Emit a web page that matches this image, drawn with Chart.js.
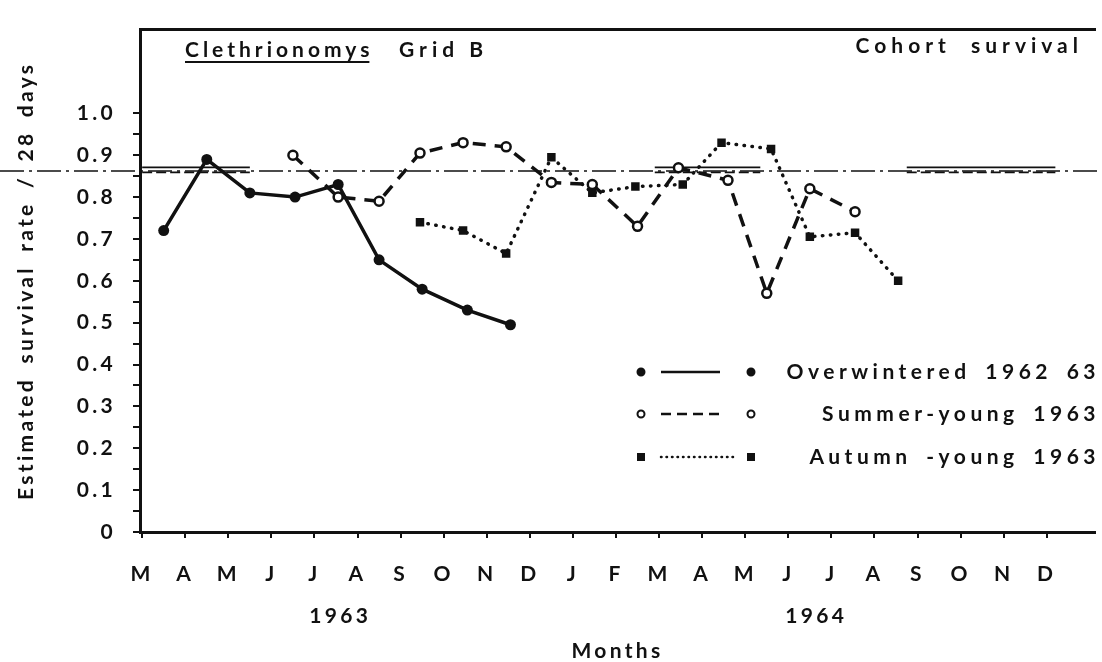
<!DOCTYPE html>
<html>
<head>
<meta charset="utf-8">
<title>Clethrionomys Grid B - cohort survival</title>
<script src="https://cdn.jsdelivr.net/npm/chart.js@4/dist/chart.umd.min.js"></script>
<style>
    html, body { margin: 0; padding: 0; background: #fff; overflow: hidden; }
    canvas { display: block; }
</style>
</head>
<body>
<canvas id="survival-chart" width="1102" height="662"></canvas>
<script>
// month letters under the axis, March 1963 .. December 1964
const monthLabels = ['M', 'A', 'M', 'J', 'J', 'A', 'S', 'O', 'N', 'D', 'J', 'F', 'M', 'A', 'M', 'J', 'J', 'A', 'S', 'O', 'N', 'D']
const yearLabels = ['1963', '1964']
const yearPositions = [4.6, 15.65]

const yTickValues = [0, 0.05, 0.1, 0.15, 0.2, 0.25, 0.3, 0.35, 0.4, 0.45, 0.5, 0.55, 0.6, 0.65, 0.7, 0.75, 0.8, 0.85, 0.9, 0.95, 1.0]
const yTickLabels = ['0', '', '0.1', '', '0.2', '', '0.3', '', '0.4', '', '0.5', '', '0.6', '', '0.7', '', '0.8', '', '0.9', '', '1.0']

// x = months after start of March 1963, y = estimated survival rate / 28 days
const overwinteredX = [0.5, 1.5, 2.5, 3.55, 4.55, 5.5, 6.5, 7.55, 8.55]
const overwinteredY = [0.72, 0.89, 0.81, 0.80, 0.83, 0.65, 0.58, 0.53, 0.495]

const summerX = [3.5, 4.55, 5.5, 6.45, 7.45, 8.45, 9.5, 10.45, 11.5, 12.45, 13.6, 14.5, 15.5, 16.55]
const summerY = [0.90, 0.80, 0.79, 0.905, 0.93, 0.92, 0.835, 0.83, 0.73, 0.87, 0.84, 0.57, 0.82, 0.765]

const autumnX = [6.45, 7.45, 8.45, 9.5, 10.45, 11.45, 12.55, 13.45, 14.6, 15.5, 16.55, 17.55]
const autumnY = [0.74, 0.72, 0.665, 0.895, 0.81, 0.825, 0.83, 0.93, 0.915, 0.705, 0.715, 0.60]

// horizontal reference levels
const meanLevel = 0.862
const meanLineX = [-3.3, 22.2]
const upperLevel = 0.871
const lowerLevel = 0.859
const levelStart = [0, 11.9, 17.75]
const levelEnd = [2.5, 14.35, 21.2]

const ink = '#111'

function points(xs, ys) {
    return xs.map((x, i) => ({ x: x, y: ys[i] }))
}

function levelSegments(level) {
    let pts = []
    levelStart.forEach((start, i) => {
        pts.push({ x: start, y: level }, { x: levelEnd[i], y: level }, { x: levelEnd[i], y: null })
    })
    return pts
}

const legendRows = [
    { dataset: 0, text: 'Overwintered 1962 63', y: 372 },
    { dataset: 1, text: 'Summer-young 1963', y: 414 },
    { dataset: 2, text: 'Autumn -young 1963', y: 457 }
]

function drawMarker(ctx, ds, x, y, r) {
    ctx.save()
    ctx.beginPath()
    if (ds.pointStyle === 'rect') {
        ctx.rect(x - r, y - r, 2 * r, 2 * r)
        ctx.fillStyle = ink
        ctx.fill()
    } else {
        ctx.arc(x, y, r, 0, Math.PI * 2)
        ctx.fillStyle = ds.pointBackgroundColor
        ctx.fill()
        ctx.lineWidth = 2
        ctx.strokeStyle = ink
        ctx.stroke()
    }
    ctx.restore()
}

const notesPlugin = {
    id: 'notes',
    beforeDraw(chart) {
        let ctx = chart.ctx
        ctx.save()
        ctx.fillStyle = '#fff'
        ctx.fillRect(0, 0, chart.width, chart.height)
        ctx.restore()
        ctx.letterSpacing = '3.3px'
        ctx.wordSpacing = '5px'
    },
    afterDraw(chart) {
        let ctx = chart.ctx
        let area = chart.chartArea
        ctx.save()
        ctx.fillStyle = ink
        ctx.strokeStyle = ink
        ctx.font = 'bold 21px Lato'
        ctx.textBaseline = 'alphabetic'

        // heading text
        ctx.letterSpacing = '4px'
        ctx.wordSpacing = '0px'
        ctx.textAlign = 'left'
        ctx.fillText('Clethrionomys', area.left + 45, 57)
        let w = ctx.measureText('Clethrionomys').width - 4
        ctx.lineWidth = 2
        ctx.beginPath()
        ctx.moveTo(area.left + 45, 62)
        ctx.lineTo(area.left + 45 + w, 62)
        ctx.stroke()
        ctx.letterSpacing = '5px'
        ctx.fillText('Grid B', area.left + 259, 57)

        ctx.wordSpacing = '10px'
        ctx.textAlign = 'right'
        ctx.fillText('Cohort survival', area.right - 17 + 5, 53)

        // legend
        ctx.letterSpacing = '4.5px'
        ctx.wordSpacing = '5px'
        ctx.textBaseline = 'middle'
        legendRows.forEach(row => {
            let ds = chart.data.datasets[row.dataset]
            ctx.save()
            ctx.lineWidth = 2.5
            ctx.lineCap = ds.borderCapStyle || 'butt'
            ctx.setLineDash(row.dataset === 1 ? [10, 6] : row.dataset === 2 ? [0.5, 5] : [])
            ctx.beginPath()
            ctx.moveTo(area.left + 521, row.y)
            ctx.lineTo(area.left + (row.dataset === 2 ? 593 : 580), row.y)
            ctx.stroke()
            ctx.restore()
            drawMarker(ctx, ds, area.left + 501, row.y, ds.pointStyle === 'rect' ? 4 : 3.5)
            drawMarker(ctx, ds, area.left + 611, row.y, ds.pointStyle === 'rect' ? 4 : 3.5)
            ctx.fillText(row.text, area.right + 5, row.y)
        })
        ctx.restore()
    }
}

Chart.defaults.font.family = 'Lato'
Chart.defaults.color = ink

const survivalChart = new Chart(document.getElementById('survival-chart').getContext('2d'), {
    type: 'line',
    data: {
        datasets: [
            {
                label: 'Overwintered 1962 63',
                data: points(overwinteredX, overwinteredY),
                borderColor: ink,
                borderWidth: 3.5,
                pointStyle: 'circle',
                pointRadius: 5.5,
                pointBackgroundColor: ink,
                pointBorderColor: ink,
                pointBorderWidth: 0
            },
            {
                label: 'Summer-young 1963',
                data: points(summerX, summerY),
                borderColor: ink,
                borderWidth: 3.5,
                borderDash: [13, 9],
                pointStyle: 'circle',
                pointRadius: 4.5,
                pointBackgroundColor: '#fff',
                pointBorderColor: ink,
                pointBorderWidth: 2.5
            },
            {
                label: 'Autumn -young 1963',
                data: points(autumnX, autumnY),
                borderColor: ink,
                borderWidth: 3.5,
                borderDash: [0.5, 7.5],
                borderCapStyle: 'round',
                pointStyle: 'rect',
                pointRadius: 6,
                pointBackgroundColor: ink,
                pointBorderColor: ink,
                pointBorderWidth: 0
            },
            {
                label: 'mean',
                data: points(meanLineX, [meanLevel, meanLevel]),
                borderColor: ink,
                borderWidth: 1.5,
                borderDash: [24, 5, 3, 5],
                pointRadius: 0,
                clip: false
            },
            {
                label: 'upper',
                data: levelSegments(upperLevel),
                borderColor: ink,
                borderWidth: 1.8,
                pointRadius: 0,
                spanGaps: false
            },
            {
                label: 'lower',
                data: levelSegments(lowerLevel),
                borderColor: ink,
                borderWidth: 1.8,
                borderDash: [10, 4],
                pointRadius: 0,
                spanGaps: false
            }
        ]
    },
    options: {
        responsive: false,
        devicePixelRatio: 1,
        animation: false,
        layout: { padding: 0 },
        plugins: {
            legend: { display: false },
            tooltip: { enabled: false },
            title: { display: false }
        },
        scales: {
            x: {
                type: 'linear',
                position: 'bottom',
                weight: 0,
                min: -0.05,
                max: 22.12,
                afterBuildTicks: axis => { axis.ticks = monthLabels.map((m, i) => ({ value: i })) },
                afterFit: axis => { axis.height = 60 },
                ticks: {
                    autoSkip: false,
                    maxRotation: 0,
                    padding: 24,
                    font: { size: 21, weight: 'bold' },
                    callback: (value, index) => monthLabels[index]
                },
                grid: { drawOnChartArea: false, tickLength: 6, lineWidth: 2, color: ink },
                border: { display: true, width: 3, color: ink }
            },
            years: {
                type: 'linear',
                position: 'bottom',
                weight: 1,
                min: -0.05,
                max: 22.12,
                afterBuildTicks: axis => { axis.ticks = yearPositions.map(v => ({ value: v })) },
                afterFit: axis => { axis.height = 70 },
                ticks: {
                    autoSkip: false,
                    maxRotation: 0,
                    padding: 4,
                    font: { size: 21, weight: 'bold' },
                    callback: (value, index) => yearLabels[index]
                },
                grid: { display: false },
                border: { display: false },
                title: {
                    display: true,
                    text: 'Months',
                    font: { size: 21, weight: 'bold' },
                    padding: { top: 0, bottom: -2 }
                }
            },
            frameTop: {
                type: 'linear',
                position: 'top',
                min: -0.05,
                max: 22.12,
                afterFit: axis => { axis.height = 13 },
                ticks: { display: false },
                grid: { display: false },
                border: { display: true, width: 3, color: ink }
            },
            y: {
                type: 'linear',
                position: 'left',
                min: 0,
                max: 1.2,
                afterBuildTicks: axis => { axis.ticks = yTickValues.map(v => ({ value: v })) },
                afterFit: axis => { axis.width = 140 },
                ticks: {
                    autoSkip: false,
                    padding: 17,
                    font: { size: 21, weight: 'bold' },
                    callback: (value, index) => yTickLabels[index]
                },
                grid: { drawOnChartArea: false, tickLength: 7, lineWidth: 2, color: ink },
                border: { display: true, width: 3, color: ink },
                title: {
                    display: true,
                    text: 'Estimated survival rate / 28 days',
                    font: { size: 21, weight: 'bold' },
                    padding: { top: 14, bottom: 0 }
                }
            }
        }
    },
    plugins: [notesPlugin]
})
</script>
</body>
</html>
